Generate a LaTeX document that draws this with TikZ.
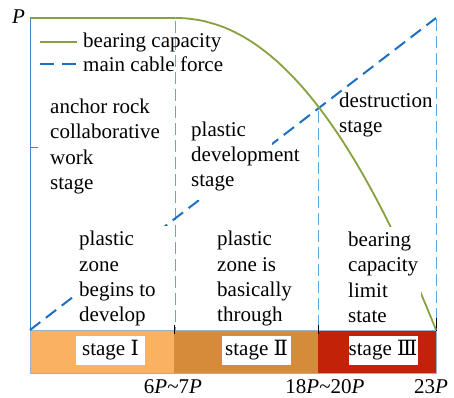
\documentclass[tikz,border=0pt]{standalone}
\usepackage{fontspec}
\setmainfont{Liberation Serif}
\newfontfamily\numfont{DejaVu Serif}
\definecolor{stageone}{HTML}{FAB162}
\definecolor{stagetwo}{HTML}{D68B3B}
\definecolor{stagethree}{HTML}{C22207}
\definecolor{bargreen}{HTML}{86A23F}
\definecolor{cableblue}{HTML}{1D6FC2}
\definecolor{guideblue}{HTML}{5AA7E2}
\definecolor{axisblue}{HTML}{4A7FD0}
\definecolor{baredge}{HTML}{9DB0CC}
\begin{document}
\begin{tikzpicture}[x=1pt,y=-1pt,
  lbl/.style={font=\fontsize{21}{25.4}\selectfont, inner sep=0pt, anchor=base west},
  ticklbl/.style={font=\fontsize{21}{25.4}\selectfont, inner sep=0pt, anchor=base},
  stagebox/.style={font=\fontsize{21}{25.4}\selectfont, fill=white, inner sep=0pt,
                   minimum width=69pt, minimum height=29pt},
  bearline/.style={draw=bargreen, line width=1.8pt},
  cableline/.style={draw=cableblue, line width=2pt, dash pattern=on 13pt off 7pt},
  guideline/.style={draw=guideblue, line width=1pt, dash pattern=on 12pt off 5pt},
  mask/.style={fill=white, draw=none}]
\useasboundingbox (0,0) rectangle (454,397);

% key points of the diagram
\coordinate (O) at (30,330);
\coordinate (Ptop) at (30,18);
\coordinate (flatEnd) at (175,18);
\coordinate (capEnd) at (436,330);
\coordinate (cableTop) at (436,18);
\coordinate (g1top) at (175,21);   \coordinate (g1bot) at (175,330);
\coordinate (g2top) at (318,111);  \coordinate (g2bot) at (318,330);
\coordinate (g3top) at (436,19);   \coordinate (g3bot) at (436,330);

% stage bars
\fill[stageone]   (30,330) rectangle (174,373);
\fill[stagetwo]   (174,330) rectangle (318,373);
\fill[stagethree] (318,330) rectangle (436,373);
\draw[baredge, line width=0.8pt] (30,330) rectangle (436,373);

% vertical guides at the stage limits
\draw[guideline] (g1top) -- (g1bot);
\draw[guideline] (g2top) -- (g2bot);
\draw[guideline] (g3top) -- (g3bot);
\draw[black, line width=0.8pt] (174,325) -- (174,334);
\draw[black, line width=0.8pt] (318,325) -- (318,334);
\draw[black, line width=0.8pt] (436,318) -- (436,331);

% load axis
\draw[axisblue, line width=1pt] (O) -- (Ptop);
\draw[axisblue, line width=1pt] (30,147) -- (38,147);

% main cable force
\draw[cableline] (O) -- (cableTop);

% bearing capacity
\draw[bearline] (Ptop) -- (flatEnd)
  plot[domain=175.5:436, samples=80] (\x, {18+312*((\x-175)/261)^2.1});

% white backgrounds of the text blocks
\fill[mask] (77,226) rectangle (172,327);
\fill[mask] (189,120) rectangle (272,200);
\fill[mask] (346,227) rectangle (421,327);

% legend
\coordinate (lgA) at (40,41.7);  \coordinate (lgB) at (77,41.7);
\coordinate (lgC) at (40,63.5);  \coordinate (lgD) at (77,63.5);
\draw[bargreen, line width=1.8pt] (lgA) -- (lgB);
\draw[cableblue, line width=2pt, dash pattern=on 14pt off 8pt] (lgC) -- (lgD);
\node[lbl] (legBear) at (83,47) {bearing capacity};
\node[lbl] (legCable) at (83,71.5) {main cable force};

% axis label
\node[lbl] (Plbl) at (12,23) {\textit{P}};

% stage descriptions
\foreach \t [count=\i] in {anchor rock,collaborative,work,stage}
  \node[lbl] (anc\i) at (50,{113.5+25.4*(\i-1)}) {\t};
\foreach \t [count=\i] in {plastic,development,stage}
  \node[lbl] (dev\i) at (191,{136+25.4*(\i-1)}) {\t};
\foreach \t [count=\i] in {destruction,stage}
  \node[lbl] (des\i) at (339,{107.5+25.4*(\i-1)}) {\t};
\foreach \t [count=\i] in {plastic,zone,begins to,develop}
  \node[lbl] (beg\i) at (79,{245.7+25.4*(\i-1)}) {\t};
\foreach \t [count=\i] in {plastic,zone is,basically,through}
  \node[lbl] (thr\i) at (217,{245.7+25.4*(\i-1)}) {\t};
\foreach \t [count=\i] in {bearing,capacity,limit,state}
  \node[lbl] (lim\i) at (348,{246.5+25.4*(\i-1)}) {\t};

% stage names
\node[stagebox] (st1) at (110.5,350.5) {stage {\numfont Ⅰ}};
\node[stagebox] (st2) at (256.5,350.5) {stage {\numfont Ⅱ}};
\node[stagebox] (st3) at (383,350.5) {stage {\numfont Ⅲ}};

% load values at the stage limits
\node[ticklbl] (v1) at (173,393) {6\textit{P}\textasciitilde7\textit{P}};
\node[ticklbl] (v2) at (325,393) {18\textit{P}\textasciitilde20\textit{P}};
\node[ticklbl] (v3) at (431,393) {23\textit{P}};
\end{tikzpicture}
\end{document}
